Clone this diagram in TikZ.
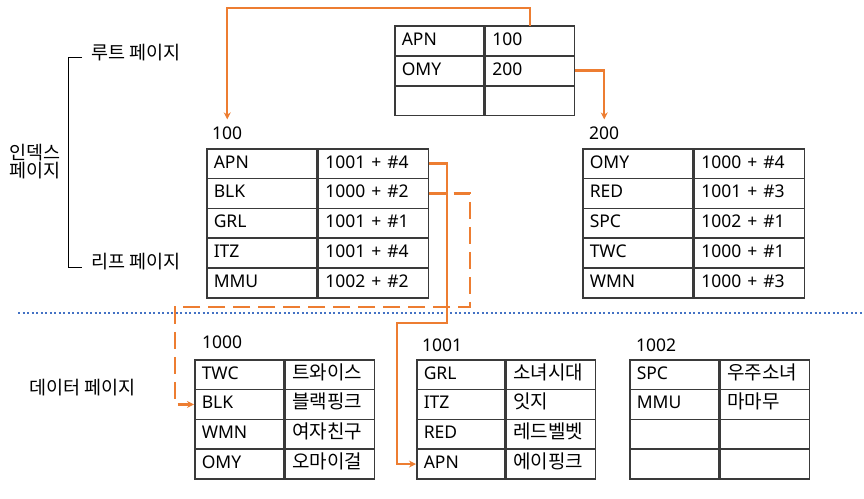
\documentclass[tikz,border=0pt]{standalone}
\usepackage{fontspec}
\setmainfont{Noto Sans}
\newfontfamily\kr{Noto Sans CJK KR}
\usetikzlibrary{arrows.meta,calc}
\definecolor{org}{HTML}{ED7D31}
\definecolor{blu}{HTML}{4472C4}
\definecolor{grd}{HTML}{3A3A3A}
\newcommand\gp{\hspace{6pt}}
\newcommand\K[1]{{\kr\fontsize{19}{22}\selectfont #1}}
\newcommand\KL[1]{{\kr\fontsize{18.5}{22}\selectfont #1}}
\newcommand\mytbl[7]{% name, x0, wl, wr, y0, rowh, entries
  \foreach \a/\b [count=\i] in {#7} {
    \node[cell, minimum width=#3pt, text width=#3pt-14pt] (#1-\i-l) at (#2, {#5+(\i-1)*#6}) {\a};
    \node[cell, minimum width=#4pt, text width=#4pt-14pt, anchor=north west] (#1-\i-r) at (#1-\i-l.north east) {\b};
  }
}
\tikzset{
  cell/.style={draw=grd, line width=1.5pt, anchor=north west, minimum height=29.8pt,
    inner xsep=7pt, inner ysep=0pt, align=left, text height=13pt, text depth=4pt, font=\fontsize{17.5}{20}\selectfont},
  lbl/.style={inner sep=0pt, font=\fontsize{17.5}{20}\selectfont},
  arr/.style={draw=org, line width=2.4pt, -{Stealth[length=7pt,width=7pt]}},
  dsh/.style={arr, dash pattern=on 17pt off 8pt},
  brk/.style={draw=black, line width=1pt},
}
\begin{document}
\begin{tikzpicture}[x=1pt,y=-1pt]
\useasboundingbox (0,0) rectangle (864,498);
% blue dotted separator
\coordinate (dl) at (18,313);
\coordinate (dr) at (864,313);
\draw[blu, line width=2pt, dash pattern=on 2pt off 2.5pt] (dl) -- (dr);
% tables
\mytbl{root}{394}{89}{89}{25}{30}{APN/100, OMY/200, {}/{}}
\mytbl{t100}{206}{110}{110}{148}{29.8}{APN/1001\gp+\gp\#4, BLK/1000\gp+\gp\#2, GRL/1001\gp+\gp\#1, ITZ/1001\gp+\gp\#4, MMU/1002\gp+\gp\#2}
\mytbl{t200}{582}{110}{110}{148}{29.8}{OMY/1000\gp+\gp\#4, RED/1001\gp+\gp\#3, SPC/1002\gp+\gp\#1, TWC/1000\gp+\gp\#1, WMN/1000\gp+\gp\#3}
\mytbl{t1000}{194}{89}{89}{359}{29.8}{TWC/\K{트와이스}, BLK/\K{블랙핑크}, WMN/\K{여자친구}, OMY/\K{오마이걸}}
\mytbl{t1001}{416}{88}{89}{359}{29.8}{GRL/\K{소녀시대}, ITZ/\K{잇지}, RED/\K{레드벨벳}, APN/\K{에이핑크}}
\mytbl{t1002}{629}{89}{89}{359}{29.8}{SPC/\K{우주소녀}, MMU/\K{마마무}, {}/{}, {}/{}}
% page labels
\node[lbl, anchor=west] (l100) at (212,133) {100};
\node[lbl, anchor=west] (l200) at (589,133) {200};
\node[lbl, anchor=west] (l1000) at (202,342) {1000};
\node[lbl, anchor=west] (l1001) at (422,345) {1001};
\node[lbl, anchor=west] (l1002) at (636,345) {1002};
% left labels
\node[lbl, anchor=west] (rootlbl) at (91,53) {\KL{루트 페이지}};
\node[lbl, anchor=west] (leaflbl) at (91,262) {\KL{리프 페이지}};
\node[lbl, align=left] (index) at (35,162) {\KL{인덱스}\\[-2pt]\KL{페이지}};
\node[lbl, anchor=west] (data) at (29,388) {\KL{데이터 페이지}};
\draw[brk] ($(rootlbl.west)+(-9,4)$) -- ++(-14,0) -- ($(leaflbl.west)+(-23,5)$) -- ++(14,0);
% connectors
\draw[arr] ([yshift=-0.5pt]root-1-r.north) -- ++(0,-17.5) -| ([yshift=7pt]l100.north);
\draw[arr] ([xshift=-0.5pt]root-2-r.east) -| ([yshift=7pt]l200.north);
\coordinate (c1) at (397,323);
\draw[arr] ([xshift=-0.5pt]t100-1-r.east) -- ++(18.5,0) |- (c1) |- (t1001-4-l.west);
\coordinate (c2) at (470,307);
\coordinate (c3) at (175,307);
\draw[dsh] ([xshift=-0.5pt]t100-2-r.east) -| (c2) -- (c3) |- (t1000-2-l.west);
\end{tikzpicture}
\end{document}
